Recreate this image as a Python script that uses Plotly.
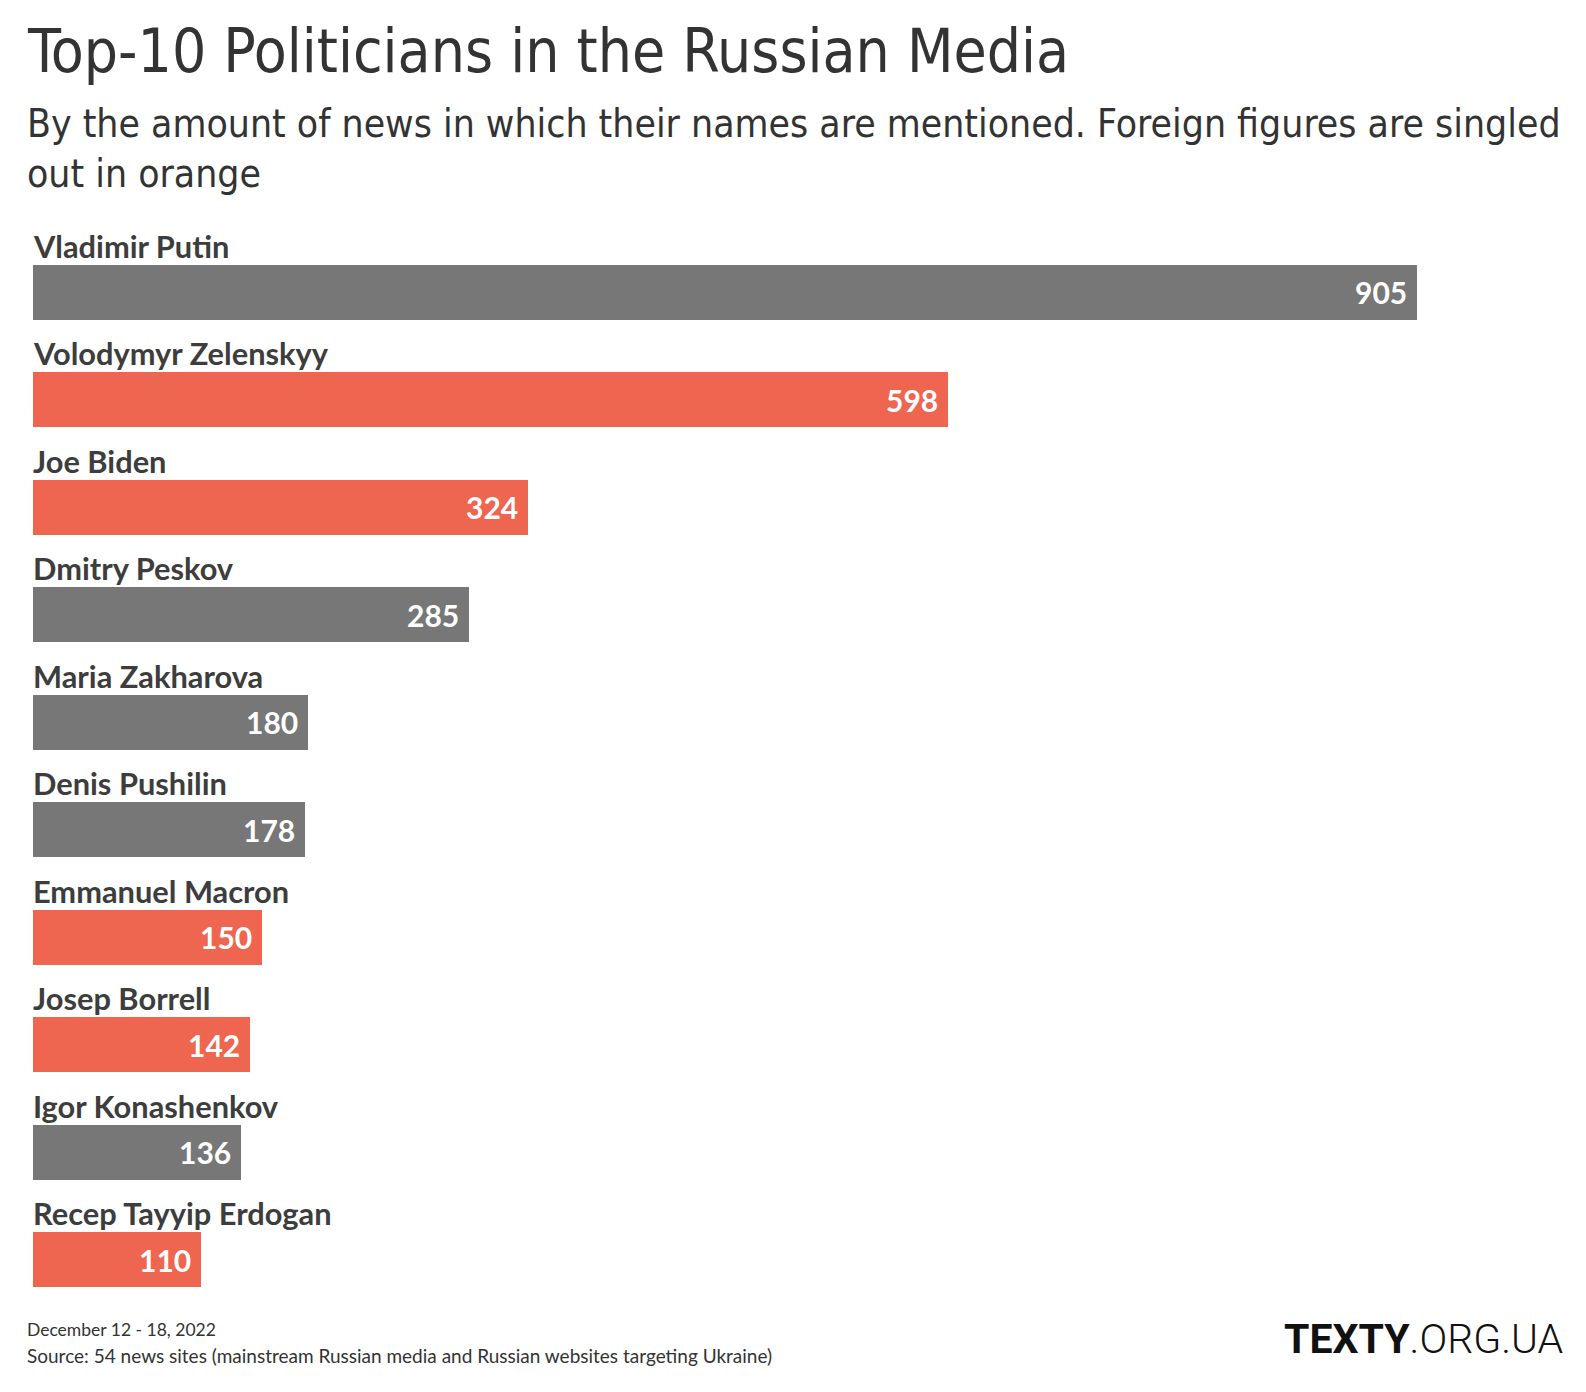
import plotly.graph_objects as go

names = ["Vladimir Putin", "Volodymyr Zelenskyy", "Joe Biden", "Dmitry Peskov",
         "Maria Zakharova", "Denis Pushilin", "Emmanuel Macron", "Josep Borrell",
         "Igor Konashenkov", "Recep Tayyip Erdogan"]
values = [905, 598, 324, 285, 180, 178, 150, 142, 136, 110]
foreign = [False, True, True, False, False, False, True, True, False, True]

GRAY = "#777777"
ORANGE = "#EE6550"
colors = [ORANGE if f else GRAY for f in foreign]

W, H = 1586, 1392
L, R, T, B = 33, 24, 185, 68
PW, PH = W - L - R, H - T - B
BAR_W = 0.512

def px(x):
    return (x - L) / PW

def py(y):
    return 1 - (y - T) / PH

idx = list(range(len(names)))

fig = go.Figure()
fig.add_trace(go.Bar(
    x=values, y=idx, orientation="h", width=BAR_W,
    marker=dict(color=colors, line=dict(width=0)),
    hoverinfo="skip",
))

annotations = []
for i, (n, v) in enumerate(zip(names, values)):
    annotations.append(dict(
        x=0, y=i - BAR_W / 2, xref="x", yref="y", text=n, showarrow=False,
        xanchor="left", yanchor="bottom", yshift=-2, xshift=-2,
        font=dict(family="Lato, 'Noto Sans', sans-serif", size=30.8, color="#3d3d3d", weight="bold"),
    ))
    annotations.append(dict(
        x=v, y=i, xref="x", yref="y", text=str(v), showarrow=False,
        xanchor="right", yanchor="middle", xshift=-8,
        font=dict(family="Lato, 'Noto Sans', sans-serif", size=30, color="white", weight="bold"),
    ))

COND = "'DejaVu Sans Condensed', 'Liberation Sans Narrow', sans-serif"
annotations += [
    dict(x=px(25), y=py(88), xref="paper", yref="paper", showarrow=False,
         xanchor="left", yanchor="bottom", align="left",
         text="Top-10 Politicians in the Russian Media",
         font=dict(family=COND, size=60, color="#333333")),
    dict(x=px(25), y=py(198), xref="paper", yref="paper", showarrow=False,
         xanchor="left", yanchor="bottom", align="left",
         text="By the amount of news in which their names are mentioned. Foreign figures are singled<br>out in orange",
         font=dict(family=COND, size=38.8, color="#333333")),
    dict(x=px(25), y=py(1342), xref="paper", yref="paper", showarrow=False,
         xanchor="left", yanchor="bottom", align="left",
         text="December 12 - 18, 2022",
         font=dict(family="Lato, sans-serif", size=17.5, color="#333333")),
    dict(x=px(25), y=py(1369), xref="paper", yref="paper", showarrow=False,
         xanchor="left", yanchor="bottom", align="left",
         text="Source: 54 news sites (mainstream Russian media and Russian websites targeting Ukraine)",
         font=dict(family="Lato, sans-serif", size=19, color="#333333")),
    dict(x=px(1566), y=py(1365), xref="paper", yref="paper", showarrow=False,
         xanchor="right", yanchor="bottom", align="right",
         text="<b>TEXTY</b><span style='font-weight:300'>.ORG.UA</span>",
         font=dict(family="Roboto, Inter, sans-serif", size=41, color="#111111")),
]

fig.update_layout(
    width=W, height=H,
    margin=dict(l=L, r=R, t=T, b=B, pad=0),
    paper_bgcolor="white", plot_bgcolor="white",
    showlegend=False,
    xaxis=dict(range=[0, PW / (1384 / 905)], visible=False, fixedrange=True),
    yaxis=dict(range=[9.6, -1], visible=False, fixedrange=True),
    annotations=annotations,
    bargap=0,
)

fig.write_html("out.html", config={"displayModeBar": False},
               post_script="document.body.style.margin='0';")
